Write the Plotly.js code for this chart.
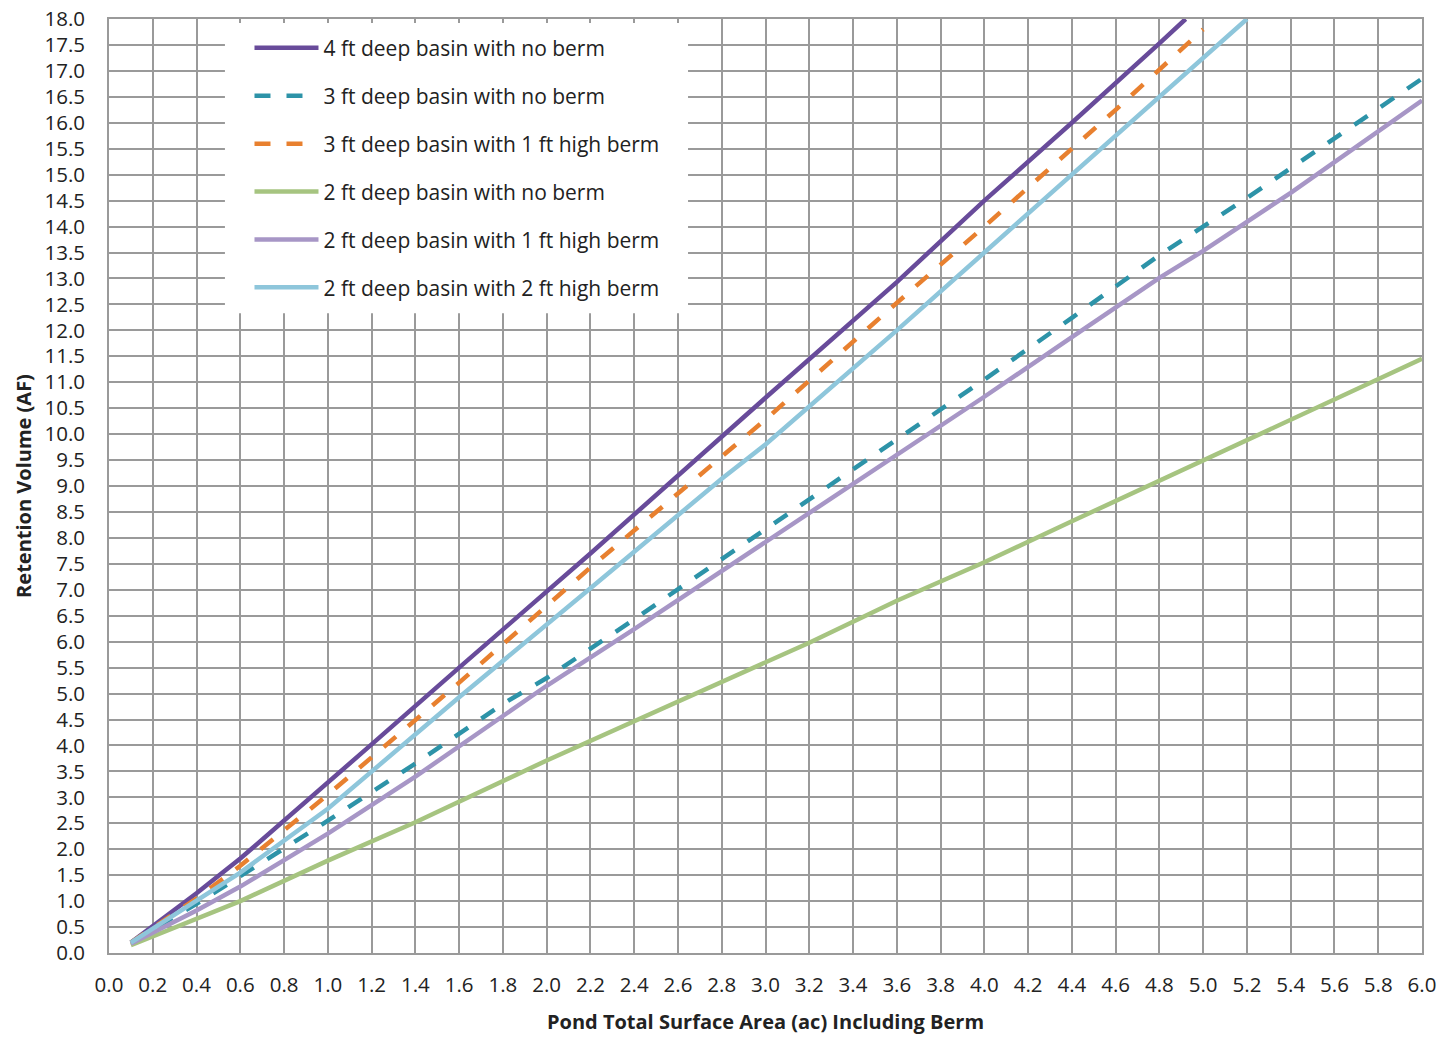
<!DOCTYPE html>
<html>
<head>
<meta charset="utf-8">
<script src="https://cdn.plot.ly/plotly-3.0.1.min.js"></script>
<style>html,body{margin:0;padding:0;background:#fff;}#chart{width:1444px;height:1039px;}</style>
</head>
<body>
<div id="chart"></div>
<script>
// Series names
const seriesNames = [
  "4 ft deep basin with no berm",
  "3 ft deep basin with no berm",
  "3 ft deep basin with 1 ft high berm",
  "2 ft deep basin with no berm",
  "2 ft deep basin with 1 ft high berm",
  "2 ft deep basin with 2 ft high berm"
];

// 4 ft deep basin with no berm
const x4ftNoBerm = [0.1, 0.2, 0.4, 0.6, 0.8, 1.0, 1.2, 1.6, 2.2, 3.0, 3.6, 4.0, 4.4, 4.8, 4.92];
const y4ftNoBerm = [0.2, 0.52, 1.15, 1.82, 2.55, 3.28, 4.02, 5.5, 7.7, 10.7, 12.93, 14.5, 16.0, 17.53, 18.0];

// 3 ft deep basin with no berm
const x3ftNoBerm = [0.1, 0.4, 0.6, 1.0, 1.4, 1.8, 2.0, 2.4, 2.8, 3.2, 3.6, 4.0, 4.4, 4.8, 5.2, 5.6, 6.0];
const y3ftNoBerm = [0.2, 0.95, 1.48, 2.55, 3.65, 4.8, 5.3, 6.43, 7.59, 8.75, 9.9, 11.05, 12.24, 13.45, 14.55, 15.7, 16.85];

// 3 ft deep basin with 1 ft high berm
const x3ft1ftBerm = [0.1, 0.4, 0.6, 1.0, 1.6, 2.2, 3.0, 3.6, 4.0, 4.6, 5.0];
const y3ft1ftBerm = [0.2, 1.05, 1.68, 3.05, 5.21, 7.43, 10.28, 12.53, 14.0, 16.25, 17.8];

// 2 ft deep basin with no berm
const x2ftNoBerm = [0.1, 0.4, 0.6, 1.0, 1.4, 2.0, 2.4, 2.8, 3.2, 3.6, 4.0, 4.4, 4.8, 5.2, 5.6, 6.0];
const y2ftNoBerm = [0.15, 0.66, 1.0, 1.78, 2.52, 3.71, 4.47, 5.21, 5.98, 6.79, 7.53, 8.32, 9.1, 9.88, 10.67, 11.45];

// 2 ft deep basin with 1 ft high berm
const x2ft1ftBerm = [0.1, 0.4, 0.6, 1.0, 1.4, 1.6, 2.0, 2.4, 2.8, 3.2, 3.6, 4.0, 4.4, 4.8, 5.0, 5.4, 6.0];
const y2ft1ftBerm = [0.18, 0.82, 1.28, 2.3, 3.4, 3.99, 5.15, 6.24, 7.36, 8.49, 9.6, 10.72, 11.87, 13.01, 13.53, 14.65, 16.43];

// 2 ft deep basin with 2 ft high berm
const x2ft2ftBerm = [0.1, 0.4, 0.6, 1.0, 1.6, 2.2, 2.8, 3.0, 3.6, 4.0, 4.4, 4.8, 5.0, 5.2];
const y2ft2ftBerm = [0.2, 1.0, 1.55, 2.78, 4.93, 7.03, 9.14, 9.8, 12.0, 13.5, 15.0, 16.5, 17.25, 18.0];

const xs = [x4ftNoBerm, x3ftNoBerm, x3ft1ftBerm, x2ftNoBerm, x2ft1ftBerm, x2ft2ftBerm];
const ys = [y4ftNoBerm, y3ftNoBerm, y3ft1ftBerm, y2ftNoBerm, y2ft1ftBerm, y2ft2ftBerm];
const colors = ["#684b9a", "#2d93a8", "#e8802f", "#a6c480", "#a796c6", "#8ec6db"];
const dashes = ["solid", "16px,16px", "16px,16px", "solid", "solid", "solid"];

const FONT = "'Open Sans', 'Noto Sans', sans-serif";

const traces = seriesNames.map((name, i) => ({
  type: "scatter",
  mode: "lines",
  name: name,
  x: xs[i],
  y: ys[i],
  legendgroup: "g" + i,
  line: {color: colors[i], width: 4.5, dash: dashes[i]},
  hoverinfo: "x+y+name"
}));

const layout = {
  width: 1444,
  height: 1039,
  margin: {l: 109, r: 22, t: 19, b: 86, pad: 0},
  paper_bgcolor: "#ffffff",
  plot_bgcolor: "#ffffff",
  font: {family: FONT, color: "#222222"},
  showlegend: true,
  legend: {
    x: 0.107, y: 0.9907, xanchor: "left", yanchor: "top",
    bgcolor: "#ffffff",
    borderwidth: 0,
    font: {family: FONT, size: 21, color: "#222222"},
    tracegroupgap: 17.6,
    traceorder: "grouped",
    itemwidth: 64
  },
  // white panel behind the legend (legend background area)
  shapes: [{
    type: "rect", xref: "paper", yref: "paper",
    x0: 0.0883, x1: 0.441, y0: 0.685, y1: 0.9957,
    fillcolor: "#ffffff", line: {width: 0}, layer: "above"
  }],
  xaxis: {
    range: [0, 6],
    tick0: 0, dtick: 0.2,
    tickformat: ".1f",
    showgrid: true, gridcolor: "#9a9a9a", gridwidth: 1.6,
    showline: true, linecolor: "#9a9a9a", linewidth: 1.6, mirror: true,
    zeroline: false,
    ticks: "outside", ticklen: 13, tickcolor: "rgba(0,0,0,0)",
    tickfont: {family: FONT, size: 20.5, color: "#222222"},
    title: {text: "<b>Pond Total Surface Area (ac) Including Berm</b>", font: {family: FONT, size: 20, color: "#222222"}, standoff: 18}
  },
  yaxis: {
    range: [0, 18],
    tick0: 0, dtick: 0.5,
    tickformat: ".1f",
    showgrid: true, gridcolor: "#9a9a9a", gridwidth: 1.6,
    showline: true, linecolor: "#9a9a9a", linewidth: 1.6, mirror: true,
    zeroline: false,
    ticks: "outside", ticklen: 18, tickcolor: "rgba(0,0,0,0)",
    tickfont: {family: FONT, size: 20.5, color: "#222222"},
    title: {text: "<b>Retention Volume (AF)</b>", font: {family: FONT, size: 20, color: "#222222"}, standoff: 8}
  }
};

Plotly.newPlot("chart", traces, layout, {displayModeBar: false, responsive: false});
</script>
</body>
</html>
